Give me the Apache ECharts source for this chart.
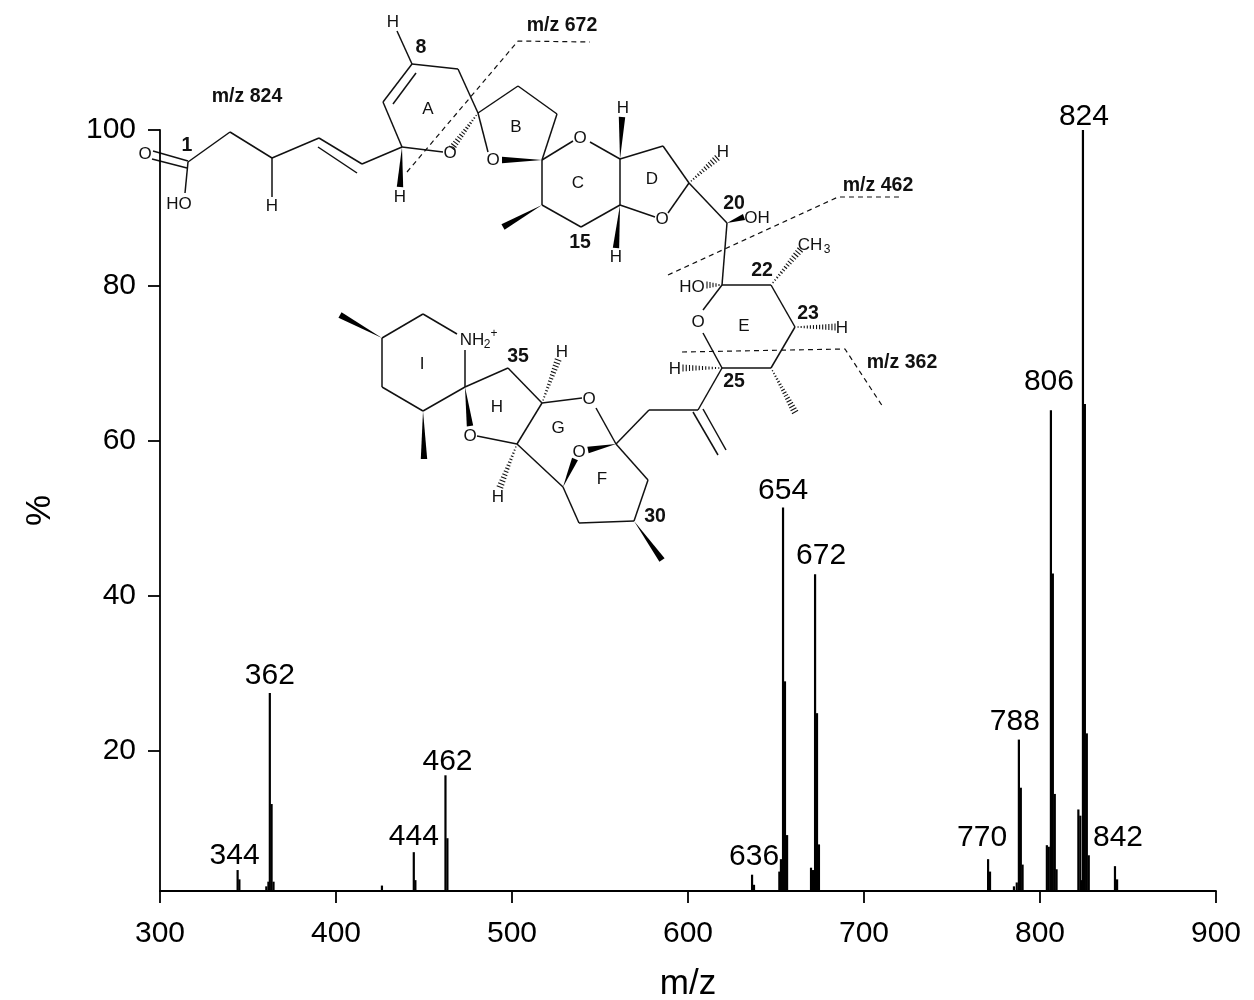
<!DOCTYPE html>
<html>
<head>
<meta charset="utf-8">
<title>MS/MS spectrum m/z 824</title>
<script src="https://cdn.jsdelivr.net/npm/echarts@6/dist/echarts.min.js"></script>
<style>
  html, body { margin: 0; padding: 0; background: #fff; }
  #MyChart { width: 1254px; height: 1000px; }
</style>
</head>
<body>
<div id="MyChart"></div>
<script>
// peaks
const peakMz = [
  344.1, 345.1,
  360.4, 361.6, 362.4, 363.4, 364.5,
  426.1,
  444.2, 445.1,
  462.2, 463.3,
  636.4, 637.5,
  651.9, 652.8, 654.0, 655.1, 656.3,
  669.9, 671.0, 672.2, 673.3, 674.4,
  770.5, 771.6,
  785.2, 786.8, 788.0, 789.1, 790.1,
  803.9, 805.0, 806.2, 807.3, 808.4, 809.4,
  821.8, 822.9, 823.6, 824.4, 825.5, 826.6, 827.7,
  842.6, 843.8
];
const peakPct = [
  4.7, 3.5,
  2.6, 3.2, 27.5, 13.2, 3.2,
  2.7,
  7.0, 3.4,
  16.9, 8.8,
  4.1, 2.8,
  4.5, 6.1, 51.4, 29.0, 9.2,
  5.0, 4.7, 42.8, 24.9, 8.0,
  6.1, 4.5,
  2.6, 3.1, 21.5, 15.3, 5.4,
  7.9, 7.7, 63.9, 42.9, 14.5, 4.8,
  12.5, 11.7, 3.4, 100, 64.7, 22.3, 6.6,
  5.2, 3.5
];

// labelled peaks
const labelText = ['344', '362', '444', '462', '636', '654', '672', '770', '788', '806', '824', '842'];
const labelMz = [344.1, 362.4, 444.2, 462.2, 636.4, 654.0, 672.2, 770.5, 788.0, 806.2, 824.4, 842.6];
const labelPct = [4.7, 27.5, 7.0, 16.9, 4.1, 51.4, 42.8, 6.1, 21.5, 63.9, 100, 5.2];

const xTicks = [300, 400, 500, 600, 700, 800, 900];
const yTicks = [20, 40, 60, 80, 100];

// label nudges in px, so they sit like in the picture
const labelNudge = {
  '344': [-3, 1], '362': [0, -2], '444': [0, 0], '462': [2, 1], '636': [2, -3], '654': [0, -2],
  '672': [6, -3], '770': [-6, -6], '788': [-4, -3], '806': [-2, -14], '824': [1, 2], '842': [3, -13]
};

// ---- structure drawing (annotation, not data), page pixels ----
const bonds = [
  [153,151,188,161],[152,159,187,168],[188,162,185,193],[188,162,230,132],[230,132,272,158],
  [272,158,272,197],[272,158,319,138],[319,138,362,164],[318,147,357,173],[362,164,402,147],
  [402,147,383,102],[383,102,412,64],[393,104,416,73],[412,64,458,69],[458,69,478,113],
  [412,64,397,31],[402,147,443,152],[478,113,518,86],[518,86,557,114],[557,114,542,160],
  [478,113,488,152],[542,160,573,141],[590,142,620,159],[620,159,620,205],[620,205,581,227],
  [581,227,542,205],[542,205,542,160],[620,159,663,146],[663,146,689,183],[689,183,668,213],
  [620,205,655,217],[689,183,727,223],[727,223,722,285],[722,285,771,285],[771,285,795,327],
  [795,327,771,368],[771,368,722,368],[722,368,703,333],[722,285,703,310],[722,368,698,410],
  [698,410,649,410],[649,410,616,444],[693,412,718,455],[703,409,726,450],[616,444,648,480],
  [648,480,634,521],[634,521,579,523],[579,523,563,487],[563,487,517,444],[517,444,542,403],
  [542,403,582,398],[596,408,616,444],[542,403,508,368],[508,368,465,387],[477,436,517,444],
  [465,387,465,350],[457,334,423,314],[423,314,382,338],[382,338,382,387],[382,387,423,411],
  [423,411,465,387]
];
// narrow end first, wide end second
const wedges = [
  [402,147,400,187],[542,160,502,160],[542,205,503,227],[620,159,622,117],[620,205,616,248],
  [727,223,744,217],[382,338,340,315],[423,411,424,459],[634,521,662,560],[465,387,470,426],
  [616,444,588,450],[563,487,575,459]
];
const hashes = [
  [478,113,452,148],[689,183,717,158],[722,285,707,285],[771,285,800,250],[795,327,835,327],
  [722,368,683,368],[771,368,795,412],[542,403,558,360],[517,444,500,487]
];
const dashes = [
  [[407,172],[518,41],[590,42]],
  [[668,275],[838,197],[903,197]],
  [[682,352],[845,349],[883,407]]
];
const atomText = [
  ['O',145,154],['HO',179,204],['H',272,206],['H',393,22],['H',400,197],['O',450,153],['O',493,160],
  ['O',580,138],['H',623,108],['H',616,257],['O',662,219],['H',723,152],['OH',757,218],['HO',692,287],
  ['O',698,322],['H',842,328],['H',675,369],['O',589,399],['O',579,452],['O',470,436],['H',562,352],
  ['H',498,497],['A',428,109],['B',516,127],['C',578,183],['D',652,179],['E',744,326],['F',602,479],
  ['G',558,428],['H',497,407],['I',422,364],['CH',810,245],['NH',472,340]
];
const smallText = [['3',827,250],['2',487,345],['+',494,334]];
const boldText = [
  ['m/z 824',247,97],['m/z 672',562,26],['m/z 462',878,186],['m/z 362',902,363],['1',187,146],['8',421,48],
  ['15',580,243],['20',734,204],['22',762,271],['23',808,314],['25',734,382],['30',655,517],['35',518,357]
];

function structureGraphics () {
  const ink = '#111';
  const out = [];
  bonds.forEach(b => {
    out.push({ type: 'line', silent: true, shape: { x1: b[0], y1: b[1], x2: b[2], y2: b[3] },
      style: { stroke: ink, lineWidth: 1.5 } });
  });
  wedges.forEach(w => {
    const dx = w[2] - w[0], dy = w[3] - w[1], len = Math.hypot(dx, dy);
    const nx = -dy / len * 3.2, ny = dx / len * 3.2;
    out.push({ type: 'polygon', silent: true,
      shape: { points: [[w[0], w[1]], [w[2] + nx, w[3] + ny], [w[2] - nx, w[3] - ny]] },
      style: { fill: '#000' } });
  });
  hashes.forEach(h => {
    const dx = h[2] - h[0], dy = h[3] - h[1], len = Math.hypot(dx, dy);
    const n = Math.round(len / 3.2);
    for (let i = 1; i <= n; i++) {
      const t = i / n, half = 0.5 + 3 * t;
      const cx = h[0] + dx * t, cy = h[1] + dy * t;
      out.push({ type: 'line', silent: true,
        shape: { x1: cx - dy / len * half, y1: cy + dx / len * half, x2: cx + dy / len * half, y2: cy - dx / len * half },
        style: { stroke: ink, lineWidth: 1.1 } });
    }
  });
  dashes.forEach(d => {
    out.push({ type: 'polyline', silent: true, shape: { points: d },
      style: { stroke: ink, lineWidth: 1.2, lineDash: [5, 4], fill: 'none' } });
  });
  const addText = (list, font) => list.forEach(t => {
    out.push({ type: 'text', silent: true, x: t[1], y: t[2],
      style: { text: t[0], font: font, fill: '#111', align: 'center', verticalAlign: 'middle' } });
  });
  addText(atomText, '17px "Liberation Sans"');
  addText(smallText, '12px "Liberation Sans"');
  addText(boldText, 'bold 19.5px "Liberation Sans"');
  return out;
}

let myChart = echarts.init(document.getElementById('MyChart'));
let option = {
  animation: false,
  backgroundColor: '#fff',
  textStyle: { fontFamily: '"Liberation Sans", Arial, sans-serif' },
  grid: { left: 160, right: 38, top: 130, bottom: 109, outerBoundsMode: 'none' },
  xAxis: {
    type: 'value',
    min: 300,
    max: 900,
    interval: 100,
    name: 'm/z',
    nameLocation: 'middle',
    nameGap: 76,
    nameTextStyle: { fontSize: 35, color: '#000' },
    axisLine: { show: true, onZero: false, lineStyle: { color: '#000', width: 1.8 } },
    axisTick: { show: true, length: 12, lineStyle: { color: '#000', width: 1.8 } },
    axisLabel: { fontSize: 30, color: '#000', margin: 28, customValues: xTicks },
    splitLine: { show: false }
  },
  yAxis: {
    type: 'value',
    min: 2,
    max: 100,
    name: '%',
    nameLocation: 'middle',
    nameGap: 102,
    nameTextStyle: { fontSize: 35, color: '#000' },
    axisLine: { show: true, onZero: false, lineStyle: { color: '#000', width: 1.8 } },
    axisTick: { show: true, length: 12, lineStyle: { color: '#000', width: 1.8 }, customValues: yTicks },
    axisLabel: { fontSize: 30, color: '#000', margin: 24, customValues: yTicks },
    splitLine: { show: false }
  },
  series: [
    {
      name: 'peaks',
      type: 'bar',
      barWidth: 2.2,
      itemStyle: { color: '#000' },
      data: peakMz.map((mz, i) => [mz, peakPct[i]])
    },
    {
      name: 'peak labels',
      type: 'scatter',
      symbolSize: 0,
      silent: true,
      itemStyle: { opacity: 1 },
      data: labelMz.map((mz, i) => ({
        value: [mz, labelPct[i]],
        label: {
          show: true,
          position: 'top',
          distance: 0,
          offset: labelNudge[labelText[i]],
          formatter: labelText[i],
          fontSize: 30,
          color: '#000'
        }
      }))
    }
  ],
  graphic: { elements: structureGraphics() }
};
myChart.setOption(option);
</script>
</body>
</html>
